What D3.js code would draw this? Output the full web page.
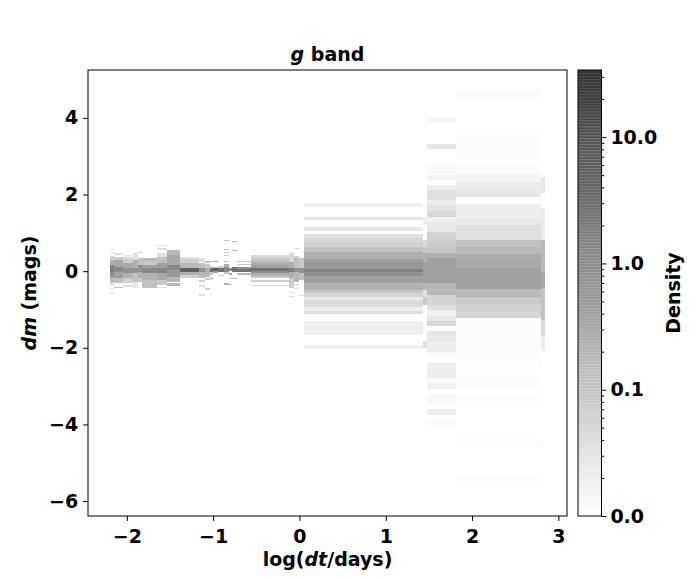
<!DOCTYPE html>
<meta charset="utf-8">

<style>
  body { margin: 0; background: #fff; }
  text { font-family: "DejaVu Sans", sans-serif; font-weight: bold; fill: #000; }
  .tick text { font-size: 19px; }
  .lbl { font-size: 19px; }
</style>

<svg width="700" height="580"></svg>

<script src="https://d3js.org/d3.v7.min.js"></script>
<script>
// ====================================================================
// log(dt) bin edges of the histogram columns
const xEdges = [-2.20, -2.15, -2.04, -1.93, -1.87, -1.82, -1.65, -1.54, -1.38, -1.16,
                -1.10, -1.04, -1.00, -0.94, -0.88, -0.82, -0.78, -0.72, -0.56, -0.12,
                -0.06, 0.00, 0.05, 1.43, 1.48, 1.81, 2.80, 2.85]

const xTicks = [-2, -1, 0, 1, 2, 3]
const yTicks = [-6, -4, -2, 0, 2, 4]
const cbarTicks = [0.01, 0.1, 1, 10]
const cbarMinor = [0.02, 0.03, 0.04, 0.05, 0.06, 0.07, 0.08, 0.09,
                   0.2, 0.3, 0.4, 0.5, 0.6, 0.7, 0.8, 0.9,
                   2, 3, 4, 5, 6, 7, 8, 9, 20, 30]

// cells: [column, dm top, dm bottom, density]
const leftCells = [
  [0, 0.57, 0.55, 0.025], [0, 0.50, 0.47, 0.034], [0, 0.39, 0.29, 0.065], [0, 0.29, 0.16, 0.23],
  [0, 0.16, -0.03, 1.6], [0, -0.03, -0.16, 0.83], [0, -0.16, -0.29, 0.17], [0, -0.29, -0.37, 0.047],
  [0, -0.44, -0.47, 0.025], [0, -0.55, -0.57, 0.025],
  [1, 0.47, 0.42, 0.034], [1, 0.37, 0.29, 0.09], [1, 0.29, 0.10, 0.32], [1, 0.10, -0.03, 1.15],
  [1, -0.03, -0.18, 0.44], [1, -0.18, -0.31, 0.12], [1, -0.42, -0.44, 0.12],
  [2, 0.42, 0.34, 0.025], [2, 0.34, 0.21, 0.065], [2, 0.21, 0.08, 0.32], [2, 0.08, -0.05, 0.83],
  [2, -0.05, -0.18, 0.23], [2, -0.18, -0.31, 0.065], [2, -0.37, -0.42, 0.034],
  [3, 0.60, 0.57, 0.015], [3, 0.47, 0.29, 0.034], [3, 0.29, 0.08, 0.23], [3, 0.08, -0.05, 0.83],
  [3, -0.05, -0.29, 0.12], [3, -0.29, -0.44, 0.025],
  [4, 0.50, 0.47, 0.065], [4, 0.34, 0.16, 0.12], [4, 0.16, -0.03, 0.83], [4, -0.03, -0.18, 0.23],
  [4, -0.18, -0.29, 0.09],
  [5, 0.34, 0.26, 0.17], [5, 0.26, 0.16, 0.09], [5, 0.16, 0.08, 0.44], [5, 0.08, -0.05, 1.15],
  [5, -0.05, -0.23, 0.23], [5, -0.23, -0.44, 0.12],
  [6, 0.68, 0.65, 0.025], [6, 0.60, 0.55, 0.034], [6, 0.47, 0.37, 0.034], [6, 0.37, 0.21, 0.12],
  [6, 0.21, 0.08, 0.44], [6, 0.08, -0.05, 1.15], [6, -0.05, -0.23, 0.32], [6, -0.23, -0.37, 0.09],
  [6, -0.42, -0.44, 0.034],
  [7, 0.55, 0.42, 0.17], [7, 0.42, 0.16, 0.32], [7, 0.16, 0.03, 1.15], [7, 0.03, -0.16, 0.6],
  [7, -0.16, -0.29, 0.17], [7, -0.31, -0.39, 0.17],
  [8, 0.37, 0.31, 0.034], [8, 0.31, 0.21, 0.065], [8, 0.21, 0.08, 0.17], [8, 0.08, -0.03, 5.6],
  [8, -0.03, -0.10, 0.23], [8, -0.10, -0.18, 0.065],
  [9, 0.34, 0.23, 0.034], [9, 0.21, 0.08, 0.12], [9, 0.08, -0.03, 0.83], [9, -0.03, -0.18, 0.17],
  [9, -0.23, -0.29, 0.065], [9, -0.37, -0.42, 0.034], [9, -0.60, -0.65, 0.034],
  [10, 0.26, 0.21, 0.12], [10, 0.18, 0.08, 0.09], [10, 0.08, -0.03, 0.23], [10, -0.03, -0.16, 0.17],
  [10, -0.18, -0.23, 0.09], [10, -0.44, -0.50, 0.065],
  [11, 0.26, 0.23, 0.09], [11, 0.13, 0.08, 0.065], [11, 0.08, -0.03, 3.0], [11, -0.03, -0.10, 0.09],
  [11, -0.16, -0.18, 0.09], [11, -0.18, -0.23, 0.047], [11, -0.60, -0.63, 0.034],
  [12, 0.26, 0.23, 0.32], [12, 0.10, 0.08, 0.12], [12, 0.08, 0.0, 5.6], [12, 0.0, -0.05, 0.44],
  [13, 0.13, 0.08, 0.065], [13, 0.08, -0.03, 3.0], [13, -0.10, -0.13, 0.065],
  [14, 0.81, 0.78, 0.12], [14, 0.57, 0.55, 0.12], [14, 0.50, 0.47, 0.09], [14, 0.42, 0.39, 0.065],
  [14, 0.26, 0.23, 0.12], [14, 0.18, 0.10, 0.23], [14, 0.10, -0.03, 1.15], [14, -0.03, -0.08, 0.12],
  [14, -0.31, -0.37, 0.23],
  [15, 0.08, 0.0, 1.15], [15, -0.05, -0.10, 0.32], [15, -0.18, -0.21, 0.12], [15, -0.34, -0.37, 0.12],
  [16, 0.78, 0.76, 0.23], [16, 0.55, 0.52, 0.23], [16, 0.10, -0.03, 3.0], [16, -0.18, -0.21, 0.12],
  [17, 0.26, 0.23, 0.09], [17, 0.18, 0.16, 0.09], [17, 0.10, 0.05, 0.83], [17, 0.05, -0.03, 3.0],
  [17, -0.05, -0.10, 0.17],
  [18, 0.42, 0.37, 0.047], [18, 0.37, 0.31, 0.065], [18, 0.31, 0.23, 0.12], [18, 0.23, 0.16, 0.23],
  [18, 0.16, 0.08, 0.44], [18, 0.08, 0.0, 3.0], [18, 0.0, -0.05, 0.83], [18, -0.05, -0.13, 0.23],
  [18, -0.13, -0.18, 0.09], [18, -0.23, -0.29, 0.065], [18, -0.37, -0.39, 0.047],
  [19, 0.47, 0.23, 0.047], [19, 0.23, 0.08, 0.23], [19, 0.08, -0.03, 1.6], [19, -0.03, -0.18, 0.23],
  [19, -0.18, -0.44, 0.065], [19, -0.55, -0.57, 0.034], [19, -0.65, -0.68, 0.034],
  [20, 0.60, 0.57, 0.047], [20, 0.39, 0.34, 0.065], [20, 0.34, 0.08, 0.12], [20, 0.08, -0.03, 0.83],
  [20, -0.03, -0.29, 0.17], [20, -0.34, -0.37, 0.065], [20, -0.44, -0.47, 0.034],
  [21, 0.34, 0.08, 0.09], [21, 0.08, -0.05, 0.83], [21, -0.05, -0.23, 0.12], [21, -0.63, -0.65, 0.047]
]

const midCells = [
  [22, 1.78, 1.67, 0.018], [22, 1.41, 1.33, 0.029], [22, 1.15, 1.04, 0.025], [22, 0.97, 0.86, 0.034],
  [22, 0.86, 0.76, 0.047], [22, 0.76, 0.63, 0.065], [22, 0.63, 0.50, 0.12], [22, 0.50, 0.31, 0.23],
  [22, 0.31, 0.23, 0.44], [22, 0.23, 0.05, 0.6], [22, 0.05, -0.03, 1.6], [22, -0.03, -0.13, 0.83],
  [22, -0.13, -0.31, 0.44], [22, -0.31, -0.50, 0.23], [22, -0.50, -0.57, 0.11], [22, -0.57, -0.68, 0.055],
  [22, -0.68, -0.76, 0.025], [22, -0.76, -0.94, 0.04], [22, -0.94, -1.04, 0.018], [22, -1.04, -1.12, 0.034],
  [22, -1.31, -1.67, 0.018], [22, -1.93, -2.04, 0.018]
]

const outerCells = [
  [23, 1.41, 1.20, 0.02], [23, 0.81, 0.63, 0.047], [23, 0.63, 0.47, 0.09], [23, 0.47, 0.23, 0.23],
  [23, 0.23, -0.03, 0.44], [23, -0.03, -0.31, 0.44], [23, -0.31, -0.50, 0.17], [23, -0.50, -0.68, 0.034],
  [23, -0.68, -0.89, 0.09], [23, -1.83, -2.01, 0.034],
  [24, 4.02, 3.86, 0.013], [24, 3.32, 3.19, 0.025], [24, 2.79, 2.51, 0.012], [24, 2.51, 2.38, 0.0155],
  [24, 2.25, 2.11, 0.021], [24, 2.11, 1.98, 0.034], [24, 1.98, 1.85, 0.034], [24, 1.85, 1.72, 0.021],
  [24, 1.72, 1.57, 0.03], [24, 1.57, 1.41, 0.047], [24, 1.41, 1.28, 0.018], [24, 1.28, 1.02, 0.025],
  [24, 1.02, 0.89, 0.055], [24, 0.89, 0.76, 0.065], [24, 0.76, 0.60, 0.075], [24, 0.60, 0.47, 0.1],
  [24, 0.47, 0.34, 0.23], [24, 0.34, -0.31, 0.44], [24, -0.31, -0.63, 0.17], [24, -0.63, -0.89, 0.055],
  [24, -0.89, -1.02, 0.034], [24, -1.02, -1.17, 0.018], [24, -1.17, -1.31, 0.025], [24, -1.31, -1.44, 0.047],
  [24, -1.57, -1.85, 0.025], [24, -1.85, -2.11, 0.02], [24, -2.11, -2.25, 0.012], [24, -2.40, -2.79, 0.02],
  [24, -2.79, -2.92, 0.012], [24, -2.92, -3.08, 0.018], [24, -3.21, -3.47, 0.013], [24, -3.60, -3.76, 0.021],
  [24, -3.89, -4.02, 0.012],
  [25, 4.73, 4.54, 0.012], [25, 3.60, 2.90, 0.0113], [25, 2.72, 2.53, 0.012], [25, 2.53, 2.32, 0.0155],
  [25, 2.32, 2.11, 0.021], [25, 2.11, 1.93, 0.025], [25, 1.75, 1.38, 0.02], [25, 1.38, 1.20, 0.025],
  [25, 1.20, 0.81, 0.034], [25, 0.81, 0.63, 0.12], [25, 0.63, 0.44, 0.17], [25, 0.44, 0.26, 0.28],
  [25, 0.26, 0.08, 0.32], [25, 0.08, -0.47, 0.4], [25, -0.47, -0.68, 0.17], [25, -0.68, -0.86, 0.09],
  [25, -0.86, -1.04, 0.065], [25, -1.04, -1.23, 0.055], [25, -1.23, -2.51, 0.0113], [25, -2.72, -3.08, 0.0113],
  [25, -3.26, -3.45, 0.0113], [25, -4.39, -4.57, 0.0113], [25, -5.33, -5.51, 0.0113],
  [26, 2.45, 2.04, 0.025], [26, 1.64, 0.81, 0.021], [26, 0.81, -0.03, 0.17], [26, -0.03, -0.44, 0.3],
  [26, -0.44, -1.28, 0.12], [26, -1.28, -1.70, 0.047], [26, -1.70, -2.09, 0.021]
]

// ====================================================================
const svg = d3.select("svg")

const x = d3.scaleLinear().domain([-2.45, 3.1]).range([88, 567])
const y = d3.scaleLinear().domain([-6.39, 5.25]).range([516, 70])
const dens = d3.scaleLog().domain([0.01, 34]).range([0, 1]).clamp(true)
const grey = d3.interpolateRgb("#ffffff", "#333333")
const colour = (v) => grey(dens(v))

//draw the histogram cells
const cells = leftCells.concat(midCells, outerCells)
svg.append("g")
    .attr("shape-rendering", "crispEdges")
    .selectAll("rect")
    .data(cells)
    .join("rect")
    .attr("x", (d) => x(xEdges[d[0]]))
    .attr("width", (d) => x(xEdges[d[0] + 1]) - x(xEdges[d[0]]))
    .attr("y", (d) => y(d[1]))
    .attr("height", (d) => y(d[2]) - y(d[1]))
    .attr("fill", (d) => colour(d[3]))

//axes
const xAxis = svg.append("g")
    .attr("transform", "translate(0,516)")
    .call(d3.axisBottom(x).tickValues(xTicks).tickSize(4.9).tickPadding(8.5).tickFormat(d3.format("d")))
const yAxis = svg.append("g")
    .attr("transform", "translate(88,0)")
    .call(d3.axisLeft(y).tickValues(yTicks).tickSize(4.9).tickPadding(5).tickFormat(d3.format("d")))
xAxis.select(".domain").remove()
yAxis.select(".domain").remove()

svg.append("rect")
    .attr("x", 88).attr("y", 70).attr("width", 479).attr("height", 446)
    .attr("fill", "none").attr("stroke", "#000").attr("stroke-width", 1)

//title and labels
const title = svg.append("text").attr("class", "lbl")
    .attr("x", 327.5).attr("y", 61).attr("text-anchor", "middle")
title.append("tspan").attr("font-style", "italic").text("g")
title.append("tspan").text(" band")

const xl = svg.append("text").attr("class", "lbl")
    .attr("x", 327.5).attr("y", 566).attr("text-anchor", "middle")
xl.append("tspan").text("log(")
xl.append("tspan").attr("font-style", "italic").text("dt")
xl.append("tspan").text("/days)")

const yl = svg.append("text").attr("class", "lbl")
    .attr("transform", "translate(36,293) rotate(-90)").attr("text-anchor", "middle")
yl.append("tspan").attr("font-style", "italic").text("dm")
yl.append("tspan").text(" (mags)")

// ====================================================================
//colorbar
const cy = d3.scaleLog().domain([0.01, 34]).range([516, 70])
const cbar = svg.append("g")
const nSteps = 150
const step = (516 - 70) / nSteps
const bands = d3.range(nSteps).map((i) => 516 - (i + 1) * step)
cbar.selectAll("rect.band")
    .data(bands)
    .join("rect")
    .attr("class", "band")
    .attr("x", 578).attr("width", 23.5)
    .attr("y", (d) => d).attr("height", step + 0.3)
    .attr("fill", (d) => colour(cy.invert(d + step / 2)))
cbar.selectAll("line.stripe")
    .data(bands)
    .join("line")
    .attr("class", "stripe")
    .attr("x1", 578).attr("x2", 601.5)
    .attr("y1", (d) => d + 0.5).attr("y2", (d) => d + 0.5)
    .attr("stroke", "#fff").attr("stroke-opacity", 0.12).attr("stroke-width", 1)

cbar.append("rect")
    .attr("x", 578).attr("y", 70).attr("width", 23.5).attr("height", 446)
    .attr("fill", "none").attr("stroke", "#000").attr("stroke-width", 1)

const cAxis = svg.append("g")
    .attr("transform", "translate(601.5,0)")
    .call(d3.axisRight(cy).tickValues(cbarTicks).tickSize(4.9).tickPadding(4).tickFormat(d3.format(".1f")))
cAxis.select(".domain").remove()
const cMinor = svg.append("g")
    .attr("transform", "translate(601.5,0)")
    .call(d3.axisRight(cy).tickValues(cbarMinor).tickSize(2.8).tickFormat(""))
cMinor.select(".domain").remove()

svg.append("text").attr("class", "lbl")
    .attr("transform", "translate(680,293) rotate(-90)").attr("text-anchor", "middle")
    .text("Density")
</script>
